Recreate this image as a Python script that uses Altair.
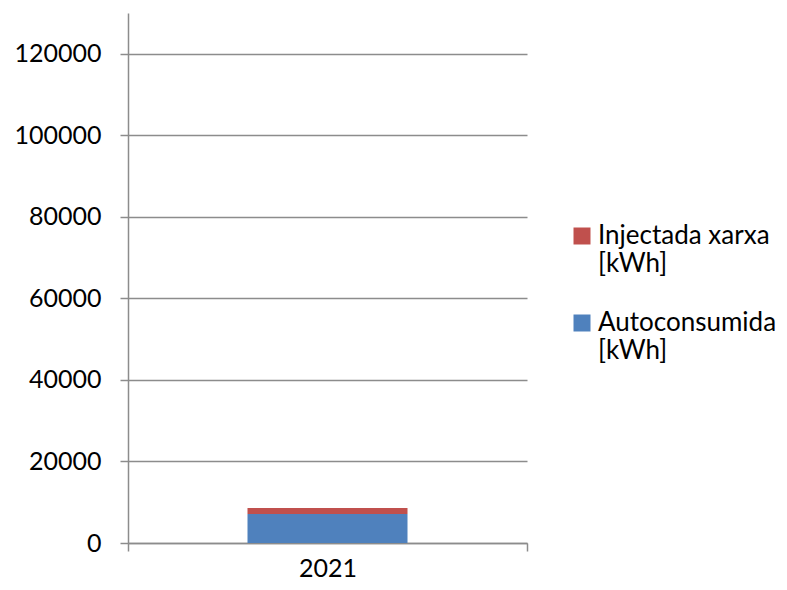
import altair as alt
import pandas as pd

years = ["2021"]
series = ["Injectada xarxa [kWh]", "Autoconsumida [kWh]"]
autoconsumida = [7100]
injectada = [1500]
colors = ["#C0504D", "#4F81BD"]

rows = []
for i, y in enumerate(years):
    rows.append({"year": y, "serie": series[1], "value": autoconsumida[i], "ord": 0})
    rows.append({"year": y, "serie": series[0], "value": injectada[i], "ord": 1})
df = pd.DataFrame(rows)

FONT = "Lato"
GRAY = "#8c8c8c"
FS = 25

chart = alt.Chart(df).mark_bar(size=160).encode(
    x=alt.X("year:N", title=None,
            scale=alt.Scale(paddingInner=0, paddingOuter=0),
            axis=alt.Axis(labelAngle=0, tickBand="extent", domainColor=GRAY, tickColor=GRAY,
                          tickSize=8, labelPadding=5, labelFontSize=FS, labelFont=FONT,
                          labelColor="#000000", domainWidth=1.5)),
    y=alt.Y("value:Q", title=None, stack="zero",
            scale=alt.Scale(domain=[0, 130000], nice=False),
            axis=alt.Axis(values=[0, 20000, 40000, 60000, 80000, 100000, 120000],
                          format="d", grid=True, gridColor=GRAY, gridWidth=1.5,
                          domainColor=GRAY, tickColor=GRAY, tickSize=8, domainWidth=1.5, tickWidth=1.5,
                          labelPadding=19, labelFontSize=FS, labelFont=FONT, labelColor="#000000")),
    color=alt.Color("serie:N", scale=alt.Scale(domain=series, range=colors),
                    legend=alt.Legend(title=None, orient="none", legendX=441, legendY=210,
                                      symbolType="square", symbolSize=289, symbolStrokeWidth=0,
                                      labelFont=FONT, labelFontSize=26, labelColor="#000000",
                                      labelExpr="split(datum.label, ' [')[0] == 'Injectada xarxa' ? ['Injectada xarxa', '[kWh]'] : ['Autoconsumida', '[kWh]']",
                                      rowPadding=33, labelOffset=3, labelLimit=300)),
    order=alt.Order("ord:Q"),
).properties(
    width=399, height=530,
    padding={"left": 120, "top": 5, "right": 252, "bottom": 39},
    autosize=alt.AutoSizeParams(type="none"),
).configure_view(stroke=None).configure_axisX(tickWidth=1.5)

chart.save("out.html", embed_options={"renderer": "svg", "actions": False})
